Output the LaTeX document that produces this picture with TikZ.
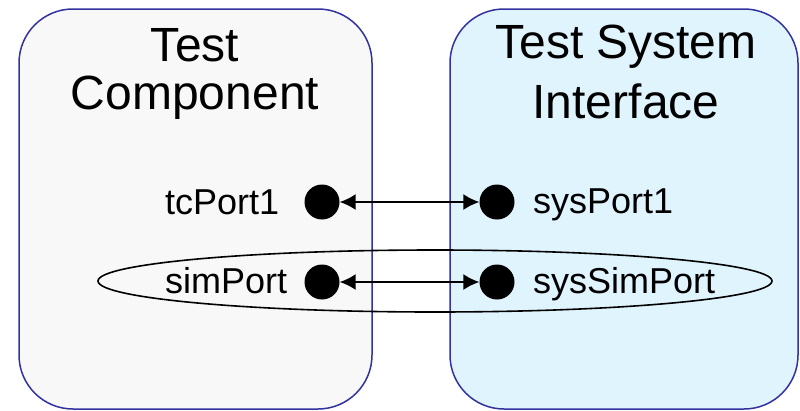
\documentclass[tikz,border=0pt]{standalone}
\usepackage{fontspec}
\setmainfont{Liberation Sans}
\usetikzlibrary{arrows.meta,shapes}
\definecolor{rahmen}{RGB}{50,50,160}
\definecolor{grau}{RGB}{248,248,248}
\definecolor{hellblau}{RGB}{224,244,254}
\tikzstyle{block} = [draw=rahmen,line width=1.5pt,rounded corners=54pt,inner sep=0pt]
\tikzstyle{port} = [circle,fill=black,inner sep=0pt,minimum size=35pt]
\tikzstyle{portlabel} = [anchor=base west,inner sep=0pt,font=\fontsize{36}{36}\selectfont]
\tikzstyle{title} = [anchor=north,inner sep=0pt,align=center]
\tikzstyle{link} = [{Latex[length=16pt,width=16pt]}-{Latex[length=16pt,width=16pt]},line width=1.6pt]

\begin{document}
\begin{tikzpicture}[x=1pt,y=-1pt]
\useasboundingbox (0,0) rectangle (800,410);
% the two blocks
\node[block,fill=grau,minimum width=353pt,minimum height=400pt] (tc) at (195.5,209) {};
\node[block,fill=hellblau,minimum width=348pt,minimum height=400pt] (tsi) at (624,209) {};
\node[title,font=\fontsize{48}{48}\selectfont] (tcTitle) at (195,28) {Test\\Component};
\node[title,font=\fontsize{48}{60}\selectfont] (tsiTitle) at (626,25) {Test System\\Interface};
% ports
\node[port] (tcPort) at (322,202) {};
\node[port] (sysPort) at (497,202) {};
\node[port] (simPort) at (322,282) {};
\node[port] (sysSimPort) at (497,282) {};
\node[portlabel] (tcPortLabel) at (165,214) {tcPort1};
\node[portlabel] (simPortLabel) at (165,293) {simPort};
\node[portlabel] (sysPortLabel) at (533,213) {sysPort1};
\node[portlabel] (sysSimPortLabel) at (533,293) {sysSimPort};
% connections
\draw[link] (tcPort) -- (sysPort);
\draw[link] (simPort) -- (sysSimPort);
% simulation pair
\draw[line width=1.6pt] (435,281) ellipse [x radius=337, y radius=31];
\end{tikzpicture}
\end{document}
